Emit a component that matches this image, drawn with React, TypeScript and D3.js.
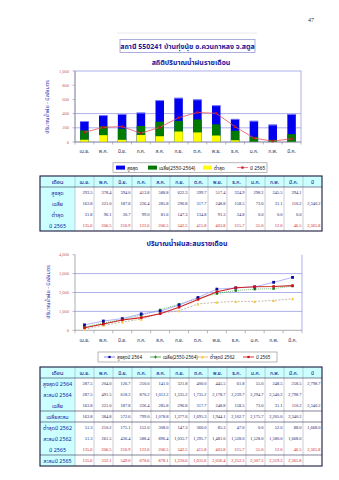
import React from 'react';
import * as d3 from 'd3';

const months = ['เม.ย.', 'พ.ค.', 'มิ.ย.', 'ก.ค.', 'ส.ค.', 'ก.ย.', 'ต.ค.', 'พ.ย.', 'ธ.ค.', 'ม.ค.', 'ก.พ.', 'มี.ค.'];

// Table 1 / chart 1
const maxMonthly = [293.5, 378.4, 394.0, 413.8, 588.8, 622.3, 599.7, 517.4, 324.9, 298.2, 245.5, 394.1];
const avgMonthly = [163.8, 221.0, 187.8, 226.4, 285.8, 296.8, 317.7, 248.8, 158.5, 73.0, 31.1, 110.2];
const minMonthly = [31.8, 96.1, 30.7, 99.0, 81.6, 147.3, 134.8, 91.3, 24.8, 0.0, 0.0, 0.0];
const y2565 = [135.6, 206.5, 216.9, 122.6, 206.5, 342.5, 415.8, 403.8, 215.7, 55.0, 12.0, 46.5];

// Table 2 / chart 2
const max2564 = [287.5, 204.0, 126.7, 250.0, 141.0, 321.8, 400.0, 445.5, 61.8, 55.0, 248.5, 258.5];
const cum2564 = [287.5, 491.5, 618.2, 870.2, 1012.2, 1335.2, 1735.2, 2178.7, 2239.7, 2294.7, 2540.2, 2798.7];
const cumAvg = [163.8, 384.8, 572.6, 799.0, 1078.8, 1377.6, 1695.3, 1944.1, 2102.7, 2175.7, 2205.0, 2340.2];
const min2562 = [51.3, 210.2, 175.1, 152.0, 308.0, 147.3, 360.0, 85.3, 47.0, 0.0, 52.0, 88.0];
const cum2562 = [51.3, 261.5, 436.4, 588.4, 896.4, 1035.7, 1395.7, 1481.0, 1528.0, 1528.0, 1580.0, 1668.0];
const cum2565 = [135.6, 332.1, 549.0, 670.6, 878.1, 1220.6, 1635.6, 2036.4, 2252.3, 2307.3, 2319.3, 2365.8];

const yearTotals = { max2564: 2798.7, avg: 2340.2, min2562: 1668.0, y2565: 2365.8 };

const ticks1 = [0, 200, 400, 600, 800, 1000];
const ticks2 = [0, 1000, 2000, 3000, 4000];

const THAI = "'Noto Sans Thai','Noto Sans','DejaVu Sans',sans-serif";
const NUM = "'Liberation Serif','DejaVu Serif',serif";
const fmt = d3.format(',.1f');
const fmtTick = d3.format(',');

const LAV = '#9a9ae6';
const AXIS = '#8a8a8a';
const TICKC = '#c46060';

function Table({ y0, rows }: { y0: number; rows: { label: string; vals: number[]; total?: number | null; red?: boolean; lineBelow?: boolean }[] }) {
  const x0 = 40;
  const labW = 35;
  const colW = 19;
  const rowH = 11;
  const hdrH = 11;
  const totalW = labW + colW * 13;
  const totalH = hdrH + rowH * rows.length;
  const cols = [...months, 'ปี'];
  return (
    <g>
      <rect x={x0} y={y0} width={totalW} height={hdrH} fill="#ccffff" />
      <rect x={x0} y={y0} width={labW} height={totalH} fill="#ccffff" />
      {cols.map((c, i) => (
        <line key={'v' + i} x1={x0 + labW + i * colW} x2={x0 + labW + i * colW} y1={y0} y2={y0 + totalH} stroke="#9a9aaa" strokeWidth={0.5} />
      ))}
      <line x1={x0} x2={x0 + totalW} y1={y0 + hdrH} y2={y0 + hdrH} stroke="#333355" strokeWidth={0.6} />
      <text x={x0 + labW / 2} y={y0 + 7.8} fontSize={5.6} fill="#000080" textAnchor="middle" fontFamily={THAI}>เดือน</text>
      {cols.map((c, i) => (
        <text key={'h' + i} x={x0 + labW + i * colW + colW / 2} y={y0 + 7.8} fontSize={5} fill="#000080" textAnchor="middle" fontFamily={THAI}>{c}</text>
      ))}
      {rows.map((r, ri) => {
        const yy = y0 + hdrH + ri * rowH;
        const col = r.red ? '#d02020' : '#1a1a66';
        return (
          <g key={'r' + ri}>
            {r.lineBelow && (
              <line x1={x0} x2={x0 + totalW} y1={yy + rowH} y2={yy + rowH} stroke="#333355" strokeWidth={0.6} />
            )}
            <text x={x0 + labW / 2} y={yy + 7.6} fontSize={5.4} fill="#1a1aa0" textAnchor="middle" fontFamily={THAI}>{r.label}</text>
            {r.vals.map((v, i) => (
              <text key={i} x={x0 + labW + (i + 1) * colW - 1.5} y={yy + 7.4} fontSize={4.4} fill={col} textAnchor="end" fontFamily={NUM}>{fmt(v)}</text>
            ))}
            {r.total != null && (
              <text x={x0 + labW + 13 * colW - 1.5} y={yy + 7.4} fontSize={4.4} fill={col} textAnchor="end" fontFamily={NUM}>{fmt(r.total)}</text>
            )}
          </g>
        );
      })}
      <rect x={x0} y={y0} width={totalW} height={totalH} fill="none" stroke="#1a1a40" strokeWidth={1.1} />
    </g>
  );
}

export default function App() {
  // Chart 1
  const x1 = d3.scaleBand<string>().domain(months).range([75, 301]).paddingInner(0.55).paddingOuter(0.275);
  const y1 = d3.scaleLinear().domain([0, 1000]).range([142, 71]);
  const step1 = x1.step();
  const cx1 = (m: string) => (x1(m) as number) + x1.bandwidth() / 2;
  const line1 = d3.line<number>().x((_, i) => cx1(months[i])).y((d) => y1(d));

  // Chart 2
  const x2 = d3.scaleBand<string>().domain(months).range([75, 302]);
  const y2 = d3.scaleLinear().domain([0, 4000]).range([330.3, 254.7]);
  const cx2 = (m: string) => (x2(m) as number) + x2.bandwidth() / 2;
  const line2 = d3.line<number>().x((_, i) => cx2(months[i])).y((d) => y2(d));
  const step2 = x2.step();

  const sq = (x: number, y: number, s: number, fill: string, k: string) => (
    <rect key={k} x={x - s / 2} y={y - s / 2} width={s} height={s} fill={fill} />
  );
  const tri = (x: number, y: number, s: number, fill: string, k: string) => (
    <path key={k} d={`M${x},${y - s / 2}L${x + s / 2},${y + s / 2}L${x - s / 2},${y + s / 2}Z`} fill={fill} />
  );
  const plus = (x: number, y: number, s: number, col: string, k: string) => (
    <path key={k} d={`M${x - s / 2},${y}H${x + s / 2}M${x},${y - s / 2}V${y + s / 2}`} stroke={col} strokeWidth={0.8} />
  );

  return (
    <svg width={339} height={480} style={{ position: 'absolute', left: 0, top: 0, background: '#fff' }}>
      <rect x={0} y={0} width={339} height={480} fill="#fff" />
      <text x={308} y={22} fontSize={6} fill="#333" fontFamily={NUM}>47</text>
      <line x1={117} x2={257} y1={33} y2={33} stroke="#e4e4ec" strokeWidth={0.8} />
      <rect x={120} y={39.5} width={135} height={13} fill="#fff" stroke="#9a9ad8" strokeWidth={0.8} />
      <text x={187.5} y={48.8} fontSize={7} fontWeight="bold" fill="#1a1a99" textAnchor="middle" fontFamily={THAI}>สถานี 550241 บ้านทุ่งนุ้ย อ.ควนกาหลง จ.สตูล</text>

      {/* Chart 1 */}
      <text x={191} y={64.5} fontSize={7} fontWeight="bold" fill="#1a1aa0" textAnchor="middle" fontFamily={THAI}>สถิติปริมาณน้ำฝนรายเดือน</text>
      <rect x={75} y={y1(1000)} width={226} height={y1(0) - y1(1000)} fill="none" stroke={LAV} strokeWidth={0.8} />
      {[200, 400].map((t) => (
        <line key={t} x1={75} x2={301} y1={y1(t)} y2={y1(t)} stroke={LAV} strokeWidth={0.8} />
      ))}
      {months.map((m, i) => (
        <g key={m}>
          <rect x={x1(m)} y={y1(maxMonthly[i])} width={x1.bandwidth()} height={y1(0) - y1(maxMonthly[i])} fill="#0000ee" />
          <line x1={x1(m) as number} x2={(x1(m) as number) + x1.bandwidth()} y1={y1(maxMonthly[i]) + 0.4} y2={y1(maxMonthly[i]) + 0.4} stroke="#9a9aff" strokeWidth={0.8} />
          <rect x={x1(m)} y={y1(avgMonthly[i])} width={x1.bandwidth()} height={y1(0) - y1(avgMonthly[i])} fill="#007a00" />
          <rect x={x1(m)} y={y1(minMonthly[i])} width={x1.bandwidth()} height={y1(0) - y1(minMonthly[i])} fill="#ffff00" />
        </g>
      ))}
      <path d={line1(y2565) || ''} fill="none" stroke="#e8505a" strokeWidth={0.8} />
      {y2565.map((v, i) => sq(cx1(months[i]), y1(v), 2.4, '#c0102a', 'm1' + i))}
      <line x1={75} x2={75} y1={y1(1000)} y2={y1(0)} stroke={AXIS} strokeWidth={0.7} />
      <line x1={75} x2={301} y1={y1(0)} y2={y1(0)} stroke={AXIS} strokeWidth={0.7} />
      {ticks1.map((t) => (
        <g key={t}>
          <line x1={72.5} x2={75} y1={y1(t)} y2={y1(t)} stroke={AXIS} strokeWidth={0.6} />
          <text x={69} y={y1(t) + 1.6} fontSize={4.5} fill={TICKC} textAnchor="end" fontFamily={NUM}>{fmtTick(t)}</text>
        </g>
      ))}
      {d3.range(13).map((i) => (
        <line key={i} x1={75 + i * step1} x2={75 + i * step1} y1={142} y2={144.5} stroke={AXIS} strokeWidth={0.6} />
      ))}
      {months.map((m) => (
        <text key={m} x={cx1(m)} y={152.5} fontSize={4.8} fill="#333355" textAnchor="middle" fontFamily={THAI}>{m}</text>
      ))}
      <text transform="translate(49,107) rotate(-90)" fontSize={5.4} fill="#2a2ab0" textAnchor="middle" fontFamily={THAI}>ปริมาณน้ำฝน - มิลลิเมตร</text>

      {/* Legend 1 */}
      <rect x={113} y={162.8} width={154} height={9.6} fill="#fff" stroke="#888" strokeWidth={0.6} />
      <rect x={116} y={165.6} width={9} height={4} fill="#0000ee" />
      <text x={127} y={169.5} fontSize={4.8} fill="#111" fontFamily={THAI}>สูงสุด</text>
      <rect x={148} y={165.6} width={9} height={4} fill="#007a00" />
      <text x={159} y={169.5} fontSize={4.8} fill="#111" fontFamily={THAI}>เฉลี่ย(2550-2564)</text>
      <rect x={203} y={165.6} width={9} height={4} fill="#ffff00" />
      <text x={214} y={169.5} fontSize={4.8} fill="#111" fontFamily={THAI}>ต่ำสุด</text>
      <line x1={237} x2={248} y1={167.6} y2={167.6} stroke="#e8505a" strokeWidth={0.8} />
      {sq(242.5, 167.6, 2.2, '#c0102a', 'lg1')}
      <text x={250} y={169.5} fontSize={4.8} fill="#111" fontFamily={THAI}>ปี 2565</text>

      {/* Table 1 */}
      <Table
        y0={176}
        rows={[
          { label: 'สูงสุด', vals: maxMonthly, total: null },
          { label: 'เฉลี่ย', vals: avgMonthly, total: yearTotals.avg },
          { label: 'ต่ำสุด', vals: minMonthly, total: null },
          { label: 'ปี 2565', vals: y2565, total: yearTotals.y2565, red: true },
        ]}
      />

      {/* Chart 2 */}
      <text x={187} y={246} fontSize={7} fontWeight="bold" fill="#1a1aa0" textAnchor="middle" fontFamily={THAI}>ปริมาณน้ำฝนสะสมรายเดือน</text>
      {[1000, 2000, 3000].map((t) => (
        <line key={t} x1={75} x2={302} y1={y2(t)} y2={y2(t)} stroke={LAV} strokeWidth={0.8} />
      ))}
      <line x1={302} x2={302} y1={y2(4000)} y2={y2(0)} stroke={LAV} strokeWidth={0.8} />
      <line x1={75} x2={75} y1={y2(4000)} y2={y2(0)} stroke={AXIS} strokeWidth={0.7} />
      <line x1={75} x2={302} y1={y2(0)} y2={y2(0)} stroke={AXIS} strokeWidth={0.7} />
      {ticks2.map((t) => (
        <g key={t}>
          <line x1={72.5} x2={75} y1={y2(t)} y2={y2(t)} stroke={AXIS} strokeWidth={0.6} />
          <text x={69} y={y2(t) + 1.6} fontSize={4.5} fill={TICKC} textAnchor="end" fontFamily={NUM}>{fmtTick(t)}</text>
        </g>
      ))}
      {d3.range(13).map((i) => (
        <line key={i} x1={75 + i * step2} x2={75 + i * step2} y1={y2(0)} y2={y2(0) + 3} stroke={AXIS} strokeWidth={0.6} />
      ))}
      {months.map((m) => (
        <text key={m} x={cx2(m)} y={341.5} fontSize={4.8} fill="#333355" textAnchor="middle" fontFamily={THAI}>{m}</text>
      ))}
      <text transform="translate(50,292) rotate(-90)" fontSize={5.4} fill="#2a2ab0" textAnchor="middle" fontFamily={THAI}>ปริมาณน้ำฝน - มิลลิเมตร</text>

      <path d={line2(cum2562) || ''} fill="none" stroke="#b8a890" strokeWidth={0.8} strokeDasharray="2,1.4" />
      <path d={line2(cumAvg) || ''} fill="none" stroke="#3a9a3a" strokeWidth={0.7} strokeDasharray="1,1" />
      <path d={line2(cum2564) || ''} fill="none" stroke="#a0a0ff" strokeWidth={0.8} />
      <path d={line2(cum2565) || ''} fill="none" stroke="#cc2222" strokeWidth={1.1} />
      {cum2562.map((v, i) => tri(cx2(months[i]), y2(v), 3, '#ffc83a', 'y' + i))}
      {cumAvg.map((v, i) => sq(cx2(months[i]), y2(v), 2.4, '#1a7a1a', 'g' + i))}
      {cum2564.map((v, i) => sq(cx2(months[i]), y2(v), 2.8, '#0a0a9a', 'b' + i))}
      {cum2565.map((v, i) => sq(cx2(months[i]), y2(v), 2.6, '#cc1020', 'r' + i))}

      {/* Legend 2 */}
      <rect x={98} y={352} width={179} height={10} fill="#fff" stroke="#888" strokeWidth={0.6} />
      <line x1={104} x2={115} y1={357} y2={357} stroke="#6a6aee" strokeWidth={0.8} />
      {sq(109.5, 357, 2.2, '#0a0a9a', 'l2a')}
      <text x={117} y={359} fontSize={4.6} fill="#111" fontFamily={THAI}>สูงสุดปี 2564</text>
      <line x1={150} x2={161} y1={357} y2={357} stroke="#3a9a3a" strokeWidth={0.8} />
      {plus(155.5, 357, 3, '#1a7a1a', 'l2b')}
      <text x={163} y={359} fontSize={4.6} fill="#111" fontFamily={THAI}>เฉลี่ย(2550-2564)</text>
      <line x1={197} x2={208} y1={357} y2={357} stroke="#d8b060" strokeWidth={0.8} />
      {tri(202.5, 357, 2.8, '#ffc83a', 'l2c')}
      <text x={210} y={359} fontSize={4.6} fill="#111" fontFamily={THAI}>ต่ำสุดปี 2562</text>
      <line x1={243} x2={254} y1={357} y2={357} stroke="#cc2222" strokeWidth={0.9} />
      {sq(248.5, 357, 2.2, '#cc1020', 'l2d')}
      <text x={256} y={359} fontSize={4.6} fill="#111" fontFamily={THAI}>ปี 2565</text>

      {/* Table 2 */}
      <Table
        y0={367}
        rows={[
          { label: 'สูงสุดปี 2564', vals: max2564, total: yearTotals.max2564 },
          { label: 'สะสมปี 2564', vals: cum2564, total: null },
          { label: 'เฉลี่ย', vals: avgMonthly, total: yearTotals.avg, lineBelow: true },
          { label: 'เฉลี่ยสะสม', vals: cumAvg, total: null, lineBelow: true },
          { label: 'ต่ำสุดปี 2562', vals: min2562, total: yearTotals.min2562 },
          { label: 'สะสมปี 2562', vals: cum2562, total: null },
          { label: 'ปี 2565', vals: y2565, total: yearTotals.y2565, red: true, lineBelow: true },
          { label: 'สะสมปี 2565', vals: cum2565, total: null, red: true },
        ]}
      />
    </svg>
  );
}
